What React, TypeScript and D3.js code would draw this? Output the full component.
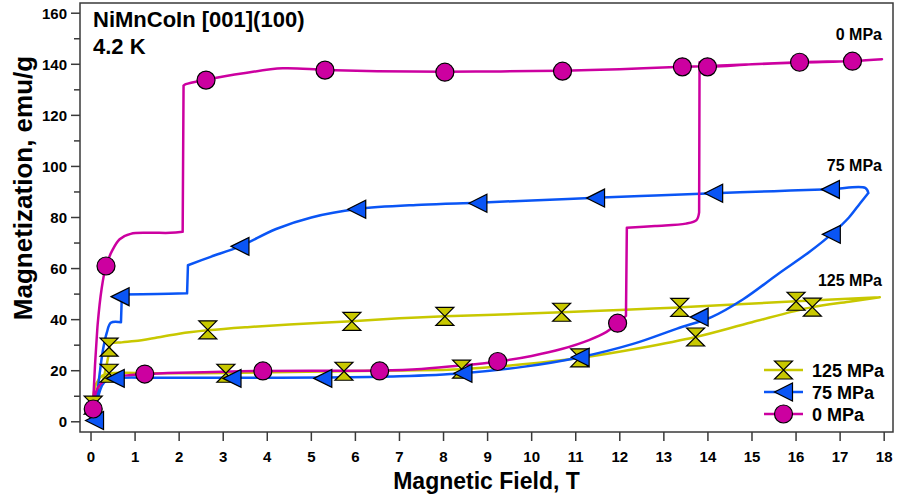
import React from "react";
import * as d3 from "d3";

// ---- Data: magnetization loops of NiMnCoIn at 4.2 K under uniaxial stress ----

// 0 MPa loop (field in T, magnetization in emu/g), traced in order
const field0 = [0.03, 0.08, 0.16, 0.3, 0.55, 0.9, 1.22, 2.0, 3.0, 3.9, 5.0, 6.55, 7.5, 8.4, 9.23, 10.0, 10.7, 11.3, 11.7, 11.95, 12.14, 12.16, 12.8, 13.5, 13.74, 13.8, 13.81, 13.86, 15.0, 16.1, 17.3, 17.95,
  17.3, 16.08, 14.0, 13.42, 12.0, 10.7, 9.3, 8.03, 6.5, 5.31, 4.35, 3.5, 2.61, 2.15, 2.1, 2.08, 1.8, 1.3, 0.9, 0.65, 0.48, 0.34, 0.24, 0.15, 0.09, 0.05];
const mag0 = [5, 9.5, 13.5, 16, 17.6, 18.3, 18.7, 19.2, 19.6, 19.9, 20, 20.1, 20.7, 22, 23.6, 25.8, 28.6, 32, 35.2, 38.6, 41.5, 76, 76.7, 77.6, 79, 82, 140.8, 139.5, 140, 140.7, 141.3, 142,
  141.3, 140.8, 139.3, 139, 138.1, 137.5, 137.2, 137.1, 137.3, 137.8, 138.4, 136.6, 134, 132.2, 131.6, 74.4, 74, 74, 73.6, 71.5, 67, 61, 52, 38, 22, 8];
const markField0 = [0.05, 0.34, 1.22, 2.61, 3.9, 5.31, 6.55, 8.03, 9.23, 10.7, 11.95, 13.42, 13.99, 16.08, 17.28];
const markMag0 = [5, 61, 18.7, 133.8, 19.9, 137.7, 19.9, 136.9, 23.6, 137.3, 38.6, 139, 139, 140.8, 141.2];

// 75 MPa loop
const field75 = [0.05, 0.12, 0.2, 0.3, 0.55, 1.5, 3.2, 5.26, 7.0, 8.44, 9.8, 11.1, 12.3, 13.3, 14.08, 14.8, 15.6, 16.3, 16.8, 17.2, 17.45, 17.64, 17.57,
  16.78, 15.5, 14.13, 12.8, 11.45, 10.0, 8.78, 7.5, 6.03, 5.0, 4.2, 3.38, 2.7, 2.2, 2.18, 1.5, 0.7, 0.68, 0.45, 0.36, 0.27, 0.19, 0.12, 0.07];
const mag75 = [0.5, 6, 12, 15.5, 17, 17.2, 17.2, 17.3, 17.8, 19, 21.5, 25.3, 30.5, 36.5, 41, 48, 58, 66.5, 73.4, 80, 85.5, 89.6, 91.6,
  91.1, 90.3, 89.5, 88.6, 87.7, 86.7, 85.8, 85, 83.3, 80, 75.5, 68.7, 64.5, 61.3, 50.3, 50, 49.8, 39, 38.8, 35, 28, 18, 8, 2];
const markField75 = [0.08, 0.66, 0.55, 3.38, 6.03, 8.78, 11.45, 14.13, 16.78, 16.8, 13.8, 11.1, 8.44, 5.26, 3.2];
const markMag75 = [0.5, 49, 17, 68.7, 83.2, 85.6, 87.6, 89.5, 91, 73.4, 41, 25.3, 19, 17, 17];

// 125 MPa loop
const field125 = [0.03, 0.06, 0.12, 0.25, 0.41, 1.5, 3.06, 4.5, 5.74, 7.0, 8.41, 9.8, 11.09, 12.5, 13.72, 15.0, 16.37, 17.2, 17.9,
  16.0, 14.7, 13.36, 12.0, 10.68, 9.3, 8.03, 7.0, 5.92, 4.5, 3.5, 2.65, 2.0, 1.5, 1.0, 0.7, 0.45, 0.42, 0.35, 0.25, 0.13, 0.04];
const mag125 = [6.5, 11, 15, 18, 19, 19, 19.1, 19.5, 19.8, 20.1, 20.6, 22.5, 25, 29, 33.2, 39, 44.9, 47, 48.8,
  47.2, 46, 44.8, 43.8, 42.9, 42, 41.3, 40.5, 39.4, 38.1, 37, 35.8, 34.5, 33, 31.6, 31.1, 30.5, 28, 22, 15, 10, 6];
const markField125 = [0.05, 0.41, 0.41, 2.65, 5.92, 8.03, 10.68, 13.36, 16.0, 16.37, 13.72, 11.09, 8.41, 5.74, 3.06];
const markMag125 = [6.5, 29.2, 19, 36, 39.3, 41.3, 42.9, 44.8, 47.2, 44.9, 33.2, 25, 20.6, 19.8, 19];

const xTicks = d3.range(0, 19, 1);
const yTicks = d3.range(0, 161, 20);
const yMinorTicks = d3.range(10, 161, 20);

const seriesNames = ["125 MPa", "75 MPa", "0 MPa"];

// ---- Layout ----
const W = 897;
const H = 498;
const left = 80, right = 893, top = 3, bottom = 432;

const x = d3.scaleLinear().domain([-0.25, 18.2]).range([left, right]);
const y = d3.scaleLinear().domain([-4, 164]).range([bottom, top]);

const MAGENTA = "#CC00A0";
const BLUE = "#0A55F5";
const YELLOW = "#C8C800";
const AXIS = "#3a3a3a";
const FONT = "'Liberation Sans', Arial, Helvetica, sans-serif";

const smooth = d3
  .line<[number, number]>()
  .x((d) => x(d[0]))
  .y((d) => y(d[1]))
  .curve(d3.curveCatmullRom.alpha(0.5));

const zip = (a: number[], b: number[]): [number, number][] => a.map((v, i) => [v, b[i]]);

// Split a loop into smooth runs; field jumps (near-vertical steps) and
// sweep reversals become sharp corners.
function pieces(pts: [number, number][]): [number, number][][] {
  const out: [number, number][][] = [];
  let cur: [number, number][] = [pts[0]];
  for (let i = 1; i < pts.length; i++) {
    const a = pts[i - 1];
    const b = pts[i];
    const jump = Math.abs(b[0] - a[0]) < 0.06 && Math.abs(b[1] - a[1]) > 4;
    if (jump) {
      if (cur.length > 1) out.push(cur);
      out.push([a, b]);
      cur = [b];
      continue;
    }
    cur.push(b);
    if (i < pts.length - 1) {
      const c = pts[i + 1];
      const d1 = b[0] - a[0];
      const d2 = c[0] - b[0];
      if (d1 * d2 < 0 && Math.abs(d1) > 0.05 && Math.abs(d2) > 0.05) {
        out.push(cur);
        cur = [b];
      }
    }
  }
  if (cur.length > 1) out.push(cur);
  return out;
}

const loopPath = (pts: [number, number][]) => pieces(pts).map((p) => smooth(p) ?? "").join("");

type MarkerKind = "circle" | "triangle" | "hourglass";

function Marker({ kind, cx, cy, fill }: { kind: MarkerKind; cx: number; cy: number; fill: string }) {
  const s = 9;
  if (kind === "circle") {
    return <circle cx={cx} cy={cy} r={s} fill={fill} stroke="#000" strokeWidth={1.2} />;
  }
  if (kind === "triangle") {
    return (
      <path
        d={`M${cx - s},${cy} L${cx + s},${cy - s} L${cx + s},${cy + s} Z`}
        fill={fill}
        stroke="#000"
        strokeWidth={1.2}
      />
    );
  }
  return (
    <path
      d={`M${cx - s},${cy - s} L${cx + s},${cy - s} L${cx},${cy} Z M${cx},${cy} L${cx + s},${cy + s} L${cx - s},${cy + s} Z`}
      fill={fill}
      stroke="#000"
      strokeWidth={1.2}
    />
  );
}

const series = [
  { name: "125 MPa", color: YELLOW, kind: "hourglass" as MarkerKind, pts: zip(field125, mag125), marks: zip(markField125, markMag125) },
  { name: "75 MPa", color: BLUE, kind: "triangle" as MarkerKind, pts: zip(field75, mag75), marks: zip(markField75, markMag75) },
  { name: "0 MPa", color: MAGENTA, kind: "circle" as MarkerKind, pts: zip(field0, mag0), marks: zip(markField0, markMag0) },
];

export default function App() {
  return (
    <svg width={W} height={H} style={{ position: "absolute", left: 0, top: 0, background: "#fff" }} fontFamily={FONT}>
      <rect x={0} y={0} width={W} height={H} fill="#fff" />

      {/* curves */}
      {series.map((s) => (
        <path
          key={s.name}
          d={loopPath(s.pts)}
          fill="none"
          stroke={s.color}
          strokeWidth={2.5}
          strokeLinejoin="round"
          strokeLinecap="round"
        />
      ))}

      {/* markers */}
      {series.map((s) =>
        s.marks.map((m, i) => <Marker key={s.name + i} kind={s.kind} cx={x(m[0])} cy={y(m[1])} fill={s.color} />)
      )}

      {/* frame */}
      <rect x={left} y={top} width={right - left} height={bottom - top} fill="none" stroke={AXIS} strokeWidth={1.5} />

      {/* x axis ticks */}
      {xTicks.map((t) => (
        <g key={"x" + t}>
          <line x1={x(t)} x2={x(t)} y1={bottom} y2={bottom + 9} stroke={AXIS} strokeWidth={1.5} />
          <text x={x(t)} y={bottom + 30} textAnchor="middle" fontSize={15} fontWeight="bold" fill="#000">
            {t}
          </text>
        </g>
      ))}

      {/* y axis ticks */}
      {yTicks.map((t) => (
        <g key={"y" + t}>
          <line x1={left - 9} x2={left} y1={y(t)} y2={y(t)} stroke={AXIS} strokeWidth={1.5} />
          <text x={left - 13} y={y(t) + 5.5} textAnchor="end" fontSize={15} fontWeight="bold" fill="#000">
            {t}
          </text>
        </g>
      ))}
      {yMinorTicks.map((t) => (
        <line key={"ym" + t} x1={left - 6} x2={left} y1={y(t)} y2={y(t)} stroke={AXIS} strokeWidth={1.5} />
      ))}

      {/* axis titles */}
      <text x={(left + right) / 2} y={489} textAnchor="middle" fontSize={23} fontWeight="bold" fill="#000">
        Magnetic Field, T
      </text>
      <text
        transform="translate(32, 188) rotate(-90)"
        textAnchor="middle"
        fontSize={26}
        fontWeight="bold"
        fill="#000"
      >
        Magnetization, emu/g
      </text>

      {/* sample and temperature */}
      <text x={93} y={27} fontSize={22} fontWeight="bold" fill="#000">
        NiMnCoIn [001](100)
      </text>
      <text x={93} y={54} fontSize={22} fontWeight="bold" fill="#000">
        4.2 K
      </text>

      {/* curve labels */}
      <text x={x(17.95)} y={y(mag0[31]) - 19} textAnchor="end" fontSize={16} fontWeight="bold" fill="#000">
        0 MPa
      </text>
      <text x={x(17.95)} y={y(mag75[22]) - 17} textAnchor="end" fontSize={16} fontWeight="bold" fill="#000">
        75 MPa
      </text>
      <text x={x(17.95)} y={y(mag125[18]) - 11} textAnchor="end" fontSize={16} fontWeight="bold" fill="#000">
        125 MPa
      </text>

      {/* legend */}
      {series.map((s, i) => {
        const cy = 370 + i * 22;
        return (
          <g key={"lg" + s.name}>
            <line x1={764} x2={803} y1={cy} y2={cy} stroke={s.color} strokeWidth={2.5} />
            <Marker kind={s.kind} cx={783.5} cy={cy} fill={s.color} />
            <text x={812} y={cy + 6.5} fontSize={18} fontWeight="bold" fill="#000">
              {seriesNames[i]}
            </text>
          </g>
        );
      })}
    </svg>
  );
}
